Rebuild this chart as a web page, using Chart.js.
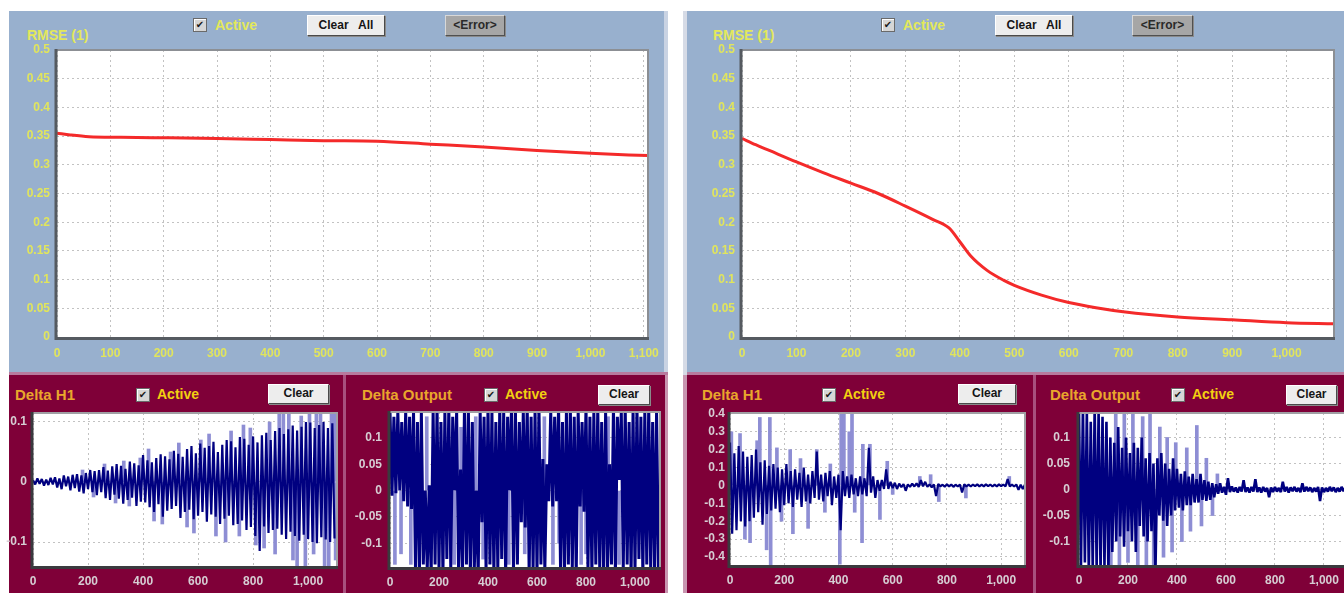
<!DOCTYPE html>
<html>
<head>
<meta charset="utf-8">
<script src="https://cdn.jsdelivr.net/npm/chart.js@4.4.1/dist/chart.umd.min.js"></script>
<style>
  html, body { margin: 0; padding: 0; background: #fff; width: 1344px; height: 593px; overflow: hidden; position: relative;
    font-family: "Liberation Sans", Arial, sans-serif; }
  .abs { position: absolute; }
  .blue { background: #98b0ce; }
  .maroon { background: #7f0038; }
  .txt { position: absolute; font-weight: bold; white-space: nowrap; line-height: 16px; }
  .ylw { color: #e3e85a; font-size: 14px; }
  .org { color: #e9a62c; font-size: 15px; }
  .act { color: #f2d010; font-size: 14px; }
  .chk { position: absolute; width: 12px; height: 12px; background: #d6d6d6; border: 1px solid #6a6a6a;
    box-shadow: inset 1px 1px 0 #fff; font: bold 10px "DejaVu Sans", sans-serif; color: #1a1a1a;
    text-align: center; line-height: 12px; }
  .btn { position: absolute; box-sizing: border-box; background: #ededed; border: 1px solid; border-color: #fff #4a4a4a #4a4a4a #fff;
    box-shadow: 1px 1px 0 #8a8a8a; font: bold 12px "Liberation Sans", Arial, sans-serif; color: #151515; text-align: center; }
  .btn.err { background: #a6a6a6; border-color: #d8d8d8 #505050 #505050 #d8d8d8; color: #2a2a2a; }
  canvas { position: absolute; }
</style>
</head>
<body>
<!-- left window -->
<div class="abs blue" style="left:9px;top:11px;width:655px;height:361px"></div>
<div class="abs" style="left:664px;top:11px;width:4px;height:361px;background:#c9d3e3"></div>
<div class="abs" style="left:9px;top:372px;width:659px;height:3px;background:#b87a9e"></div>
<div class="abs maroon" style="left:9px;top:375px;width:656px;height:218px"></div>
<div class="abs" style="left:665px;top:375px;width:3px;height:218px;background:#c895b0"></div>
<div class="abs" style="left:343px;top:375px;width:3px;height:218px;background:#a8507e"></div>

<!-- right window -->
<div class="abs" style="left:683px;top:11px;width:4px;height:582px;background:#d6dbe6"></div>
<div class="abs blue" style="left:687px;top:11px;width:657px;height:361px"></div>
<div class="abs" style="left:687px;top:372px;width:657px;height:3px;background:#b87a9e"></div>
<div class="abs maroon" style="left:687px;top:375px;width:657px;height:218px"></div>
<div class="abs" style="left:683px;top:375px;width:4px;height:218px;background:#c895b0"></div>
<div class="abs" style="left:1033px;top:375px;width:3px;height:218px;background:#a8507e"></div>

<!-- top toolbars -->
<div class="txt ylw" style="left:27px;top:27px">RMSE (1)</div>
<div class="chk" style="left:193px;top:18px">✔</div>
<div class="txt ylw" style="left:215px;top:17px">Active</div>
<div class="btn" style="left:307px;top:15px;width:78px;height:21px;line-height:18px">Clear&nbsp;&nbsp; All</div>
<div class="btn err" style="left:445px;top:15px;width:60px;height:21px;line-height:18px">&lt;Error&gt;</div>

<div class="txt ylw" style="left:713px;top:27px">RMSE (1)</div>
<div class="chk" style="left:881px;top:18px">✔</div>
<div class="txt ylw" style="left:903px;top:17px">Active</div>
<div class="btn" style="left:995px;top:15px;width:78px;height:21px;line-height:18px">Clear&nbsp;&nbsp; All</div>
<div class="btn err" style="left:1132px;top:15px;width:61px;height:21px;line-height:18px">&lt;Error&gt;</div>

<!-- bottom toolbars -->
<div class="txt org" style="left:15px;top:387px">Delta H1</div>
<div class="chk" style="left:136px;top:388px">✔</div>
<div class="txt act" style="left:157px;top:386px">Active</div>
<div class="btn" style="left:268px;top:384px;width:61px;height:20px;line-height:17px">Clear</div>

<div class="txt org" style="left:362px;top:387px">Delta Output</div>
<div class="chk" style="left:484px;top:388px">✔</div>
<div class="txt act" style="left:505px;top:386px">Active</div>
<div class="btn" style="left:598px;top:385px;width:52px;height:20px;line-height:17px">Clear</div>

<div class="txt org" style="left:702px;top:387px">Delta H1</div>
<div class="chk" style="left:822px;top:388px">✔</div>
<div class="txt act" style="left:843px;top:386px">Active</div>
<div class="btn" style="left:958px;top:384px;width:58px;height:20px;line-height:17px">Clear</div>

<div class="txt org" style="left:1050px;top:387px">Delta Output</div>
<div class="chk" style="left:1171px;top:388px">✔</div>
<div class="txt act" style="left:1192px;top:386px">Active</div>
<div class="btn" style="left:1286px;top:385px;width:51px;height:20px;line-height:17px">Clear</div>

<canvas id="rmseA"></canvas>
<canvas id="rmseB"></canvas>
<canvas id="h1A"></canvas>
<canvas id="outA"></canvas>
<canvas id="h1B"></canvas>
<canvas id="outB"></canvas>

<script>
// ---------- RMSE curves (iteration, error) ----------
const RMSE_ITER_A = [0, 25, 60, 120, 210, 300, 400, 500, 600, 700, 800, 900, 1000, 1108];
const RMSE_A = [0.355, 0.352, 0.349, 0.348, 0.347, 0.346, 0.344, 0.342, 0.341, 0.336, 0.331, 0.325, 0.320, 0.316];

const RMSE_ITER_B = [0, 25, 50, 100, 150, 200, 250, 300, 350, 380, 400, 420, 450, 480, 500, 550, 600, 650, 700, 800, 900, 1000, 1087];
const RMSE_B = [0.346, 0.335, 0.325, 0.305, 0.286, 0.268, 0.25, 0.228, 0.205, 0.19, 0.166, 0.141, 0.116, 0.099, 0.09, 0.073, 0.06, 0.051, 0.044, 0.035, 0.030, 0.025, 0.023];

// ---------- weight deltas, one sample every 8 iterations ----------
const SAMPLE_STEP = 8;

const DELTA_H1_A = [
  0.003,-0.004,0.006,-0.003,0.005,-0.006,0.004,-0.005,0.007,-0.004,
  0.008,-0.009,0.006,-0.012,0.011,-0.007,0.009,-0.014,0.012,-0.01,
  0.013,-0.016,0.011,-0.019,0.015,-0.012,0.02,-0.017,0.018,-0.022,
  0.02,-0.017,0.025,-0.027,0.019,-0.03,0.026,-0.021,0.03,-0.028,
  0.027,-0.036,0.022,-0.03,0.034,-0.026,0.031,-0.04,0.028,-0.033,
  0.045,-0.034,0.036,-0.042,0.033,-0.05,0.04,-0.037,0.046,-0.058,
  0.043,-0.048,0.038,-0.045,0.052,-0.04,0.047,-0.06,0.042,-0.05,
  0.055,-0.046,0.06,-0.062,0.048,-0.056,0.064,-0.05,0.057,-0.066,
  0.06,-0.054,0.067,-0.058,0.05,-0.07,0.062,-0.061,0.07,-0.056,
  0.068,-0.072,0.058,-0.07,0.075,-0.064,0.072,-0.08,0.062,-0.075,
  0.076,-0.09,0.066,-0.115,0.078,-0.074,0.082,-0.085,0.07,-0.08,
  0.085,-0.078,0.09,-0.088,0.08,-0.095,0.088,-0.083,0.094,-0.09,
  0.086,-0.098,0.092,-0.088,0.1,-0.095,0.099,-0.1,0.09,-0.102,
  0.095,-0.092,0.1,-0.096,0.09,-0.1,0.098,-0.094
];
const PEAKS_H1_A = [
  [180,0.02],[220,-0.025],[260,0.03],[300,-0.035],[330,0.035],[350,-0.04],[390,0.04],[420,0.055],
  [440,-0.065],[470,-0.07],[500,0.05],[530,0.065],[560,-0.075],[585,-0.085],[610,0.07],[640,0.08],
  [665,-0.09],[700,-0.1],[720,0.085],[750,-0.09],[765,0.095],[790,0.09],[810,-0.105],[840,-0.11],
  [860,0.1],[880,-0.12],[895,0.12],[910,0.115],[930,0.12],[945,-0.13],[960,-0.15],[975,0.11],
  [990,-0.15],[1005,0.12],[1020,-0.12],[1030,0.12],[1045,0.12],[1060,-0.15],[1075,-0.15],[1085,0.12],
  [1095,0.12],[1100,-0.13]
];

const DELTA_OUT_A = [
  0.15,-0.01,0.14,-0.005,0.15,0.0,0.13,-0.02,0.15,-0.03,
  0.14,-0.035,0.15,-0.15,0.13,-0.16,0.15,-0.14,0.0,-0.15,
  0.01,-0.16,0.15,-0.14,0.16,-0.15,0.13,-0.16,0.15,-0.13,
  0.16,-0.15,0.14,0.0,0.15,-0.16,0.04,-0.15,0.16,-0.14,
  0.15,-0.16,0.13,-0.15,0.0,-0.16,0.15,-0.06,0.14,-0.15,
  0.16,-0.14,0.15,-0.16,0.13,-0.15,0.16,-0.13,0.15,-0.16,
  0.14,0.0,0.16,-0.15,0.15,-0.14,0.13,-0.06,0.15,-0.07,
  0.16,-0.16,0.14,-0.15,0.15,-0.16,0.16,-0.14,0.06,-0.15,
  0.05,-0.02,0.15,-0.03,0.14,-0.02,0.16,-0.15,0.13,-0.16,
  0.15,-0.14,0.16,-0.15,0.14,-0.16,0.15,-0.03,0.13,-0.04,
  0.16,-0.15,0.14,-0.16,0.15,-0.14,0.16,-0.15,0.13,-0.16,
  0.15,-0.15,0.05,-0.14,0.16,-0.16,0.14,0.02,0.15,-0.15,
  0.16,-0.14,0.13,-0.16,0.15,-0.15,0.16,-0.13,0.14,-0.16,
  0.15,-0.14,0.16,-0.15,0.13,-0.16,0.15,-0.15
];
const PEAKS_OUT_A = [
  [20,-0.14],[45,-0.12],[85,-0.14],[150,0.14],[262,-0.14],[290,0.12],[350,0.14],[380,-0.13],
  [485,-0.14],[550,-0.12],[630,0.14],[665,-0.14],[690,-0.1],[780,-0.14],[800,-0.12],[890,0.14],[935,-0.14]
];

const DELTA_H1_B = [
  0.24,-0.27,0.18,-0.25,0.22,-0.2,0.19,-0.23,0.16,-0.2,
  0.17,-0.18,0.2,-0.15,0.13,-0.22,0.14,-0.16,0.11,-0.14,
  0.12,-0.13,0.1,-0.15,0.09,-0.11,0.12,-0.1,0.08,-0.12,
  0.09,-0.08,0.07,-0.12,0.1,-0.09,0.06,-0.1,0.08,-0.07,
  0.19,-0.08,0.06,-0.09,0.07,-0.06,0.08,-0.11,0.05,-0.07,
  0.06,-0.25,0.08,-0.06,0.05,-0.07,0.06,-0.05,0.04,-0.06,
  0.05,-0.05,0.04,-0.06,0.21,-0.04,0.05,-0.07,0.03,-0.03,
  0.03,-0.02,0.09,-0.02,0.02,-0.015,0.015,-0.02,0.01,-0.01,
  0.008,-0.03,0.006,-0.008,0.01,-0.006,0.012,-0.008,0.03,-0.005,
  0.02,-0.008,0.006,-0.01,0.005,-0.06,0.008,-0.005,0.004,-0.007,
  0.006,-0.005,0.005,-0.008,0.004,-0.006,0.005,-0.04,0.006,-0.005,
  0.004,-0.006,0.005,-0.004,0.006,-0.005,0.004,-0.005,0.006,-0.004,
  0.005,-0.006,0.004,-0.005,0.006,-0.004,0.005,-0.006,0.035,-0.005,
  0.004,-0.006,0.005,-0.025,0.004,-0.02,0.005
];
const PEAKS_H1_B = [
  [5,0.3],[37,0.29],[55,-0.3],[74,-0.32],[100,0.25],[110,0.38],[135,-0.36],[147,0.38],[150,-0.45],
  [173,0.21],[190,-0.2],[222,0.2],[232,-0.27],[260,0.15],[288,-0.24],[320,0.2],[350,-0.15],[370,0.12],
  [405,-0.44],[410,0.4],[420,0.4],[440,0.3],[450,0.42],[460,-0.15],[487,-0.32],[490,0.23],[516,0.23],
  [553,-0.19],[580,0.135],[600,-0.05],[700,0.05],[740,0.06],[770,-0.09],[870,-0.07],[1030,0.05]
];

const DELTA_OUT_B = [
  0.15,-0.15,0.16,-0.14,0.15,-0.16,0.13,-0.15,0.16,-0.15,
  0.15,-0.16,0.14,-0.15,0.13,-0.16,0.1,-0.12,0.09,-0.1,
  0.12,-0.09,0.08,-0.11,0.1,-0.08,0.07,-0.1,0.09,-0.12,
  0.08,-0.07,0.1,-0.09,0.06,-0.1,0.07,-0.08,0.05,-0.16,
  0.06,-0.05,0.07,-0.06,0.05,-0.07,0.04,-0.05,0.06,-0.04,
  0.04,-0.035,0.03,-0.04,0.035,-0.03,0.025,-0.03,0.03,-0.025,
  0.02,-0.025,0.03,-0.02,0.018,-0.022,0.015,-0.02,0.012,-0.015,
  0.01,-0.008,0.012,-0.006,0.005,-0.01,0.022,-0.005,0.006,-0.004,
  0.004,-0.006,0.005,-0.004,0.018,-0.005,0.004,-0.006,0.005,-0.004,
  0.02,-0.005,0.004,-0.006,0.005,-0.004,0.003,-0.015,0.004,-0.005,
  0.005,-0.004,0.003,-0.005,0.015,-0.004,0.005,-0.006,0.004,-0.003,
  0.005,-0.004,0.003,-0.005,0.012,-0.004,0.005,-0.003,0.004,-0.005,
  0.003,-0.004,0.005,-0.022,0.004,-0.005,0.003,-0.004,0.005,-0.003,
  0.004,-0.005,0.003,-0.004,0.005,-0.003,0.004
];
const PEAKS_OUT_B = [
  [130,-0.15],[150,0.15],[165,-0.15],[185,0.15],[200,-0.14],[220,0.15],[240,-0.15],[260,0.14],
  [275,-0.15],[290,0.15],[305,-0.15],[330,0.12],[345,-0.13],[360,0.1],[380,-0.12],[395,0.09],
  [420,-0.1],[440,0.08],[455,-0.08],[481,0.123],[500,-0.07],[520,0.06],[545,-0.05],[565,0.03]
];

// ---------- axis ticks ----------
const RMSE_Y_TICKS = [0, 0.05, 0.1, 0.15, 0.2, 0.25, 0.3, 0.35, 0.4, 0.45, 0.5];
const RMSE_X_TICKS_A = [0, 100, 200, 300, 400, 500, 600, 700, 800, 900, 1000, 1100];
const RMSE_X_TICKS_B = [0, 100, 200, 300, 400, 500, 600, 700, 800, 900, 1000];
const SMALL_X_TICKS = [0, 200, 400, 600, 800, 1000];
const H1_Y_TICKS_A = [-0.1, 0, 0.1];
const H1_Y_TICKS_B = [-0.4, -0.3, -0.2, -0.1, 0, 0.1, 0.2, 0.3, 0.4];
const OUT_Y_TICKS = [-0.1, -0.05, 0, 0.05, 0.1];

// ---------- drawing ----------
Chart.defaults.font.family = '"Liberation Sans", Arial, sans-serif';
Chart.defaults.animation = false;

const fmt = v => Number(v).toLocaleString('en-US', { maximumFractionDigits: 3 });

// white plot background, sunken dark left/bottom edge, light right/top edge
const plotFrame = {
  id: 'plotFrame',
  beforeDraw(chart) {
    const a = chart.chartArea, ctx = chart.ctx;
    ctx.save();
    ctx.fillStyle = '#ffffff';
    ctx.fillRect(a.left, a.top, a.right - a.left, a.bottom - a.top);
    ctx.restore();
  },
  afterDatasetsDraw(chart, args, o) {
    const a = chart.chartArea, ctx = chart.ctx;
    ctx.save();
    ctx.strokeStyle = o.light;
    ctx.lineWidth = 2;
    ctx.beginPath();
    ctx.moveTo(a.left, a.top); ctx.lineTo(a.right, a.top); ctx.lineTo(a.right, a.bottom);
    ctx.stroke();
    ctx.strokeStyle = o.dark;
    ctx.lineWidth = 3;
    ctx.beginPath();
    ctx.moveTo(a.left - 1, a.top - 1); ctx.lineTo(a.left - 1, a.bottom + 1.5); ctx.lineTo(a.right + 1, a.bottom + 1.5);
    ctx.stroke();
    ctx.restore();
  }
};

function place(id, area, m) {
  const c = document.getElementById(id);
  const w = area.r - area.l + m.l + m.r, h = area.b - area.t + m.t + m.b;
  c.width = w; c.height = h;
  c.style.left = (area.l - m.l) + 'px';
  c.style.top = (area.t - m.t) + 'px';
  c.style.width = w + 'px';
  c.style.height = h + 'px';
  return c;
}

function scaleX(min, max, ticks, color, m, pad, size) {
  return {
    type: 'linear', min, max, offset: false,
    grid: { color: '#c2c2c2', lineWidth: 1, drawTicks: false, offset: false },
    border: { display: false, dash: [2, 3] },
    ticks: { color, font: { size, weight: 'bold' }, padding: pad, autoSkip: false, maxRotation: 0, minRotation: 0, callback: fmt },
    afterBuildTicks: s => { s.ticks = ticks.map(v => ({ value: v })); },
    afterFit: s => { s.height = m.b; s.paddingLeft = 0; s.paddingRight = 0; }
  };
}
function scaleY(min, max, ticks, color, m, pad, size) {
  return {
    type: 'linear', min, max,
    grid: { color: '#c2c2c2', lineWidth: 1, drawTicks: false },
    border: { display: false, dash: [2, 3] },
    ticks: { color, font: { size, weight: 'bold' }, padding: pad, autoSkip: false, callback: fmt },
    afterBuildTicks: s => { s.ticks = ticks.map(v => ({ value: v })); },
    afterFit: s => { s.width = m.l; s.paddingTop = 0; s.paddingBottom = 0; }
  };
}

function baseOptions(m, x, y, frame) {
  return {
    responsive: false, devicePixelRatio: 1, animation: false,
    layout: { padding: { top: m.t, right: m.r, left: 0, bottom: 0 } },
    plugins: { legend: { display: false }, tooltip: { enabled: false }, plotFrame: frame },
    scales: { x, y },
    elements: { point: { radius: 0 } }
  };
}

function rmseChart(id, area, m, iters, values, xMax, xTicks) {
  const c = place(id, area, m);
  const yellow = '#e1e55c';
  new Chart(c, {
    type: 'line',
    data: { datasets: [{
      data: iters.map((x, i) => ({ x, y: values[i] })),
      borderColor: '#f42a2a', borderWidth: 3, cubicInterpolationMode: 'monotone', pointRadius: 0
    }] },
    options: baseOptions(m,
      scaleX(0, xMax, xTicks, yellow, m, 9, 12),
      scaleY(0, 0.5, RMSE_Y_TICKS, yellow, m, 7, 12),
      { dark: '#555a60', light: '#8c8f94' }),
    plugins: [plotFrame]
  });
}

function deltaChart(id, area, m, values, peaks, xMax, yMin, yMax, yTicks, yPad, lw) {
  const c = place(id, area, m);
  const grey = '#d6cdd3';
  new Chart(c, {
    type: 'line',
    data: { datasets: [
      {
        type: 'line', order: 0,
        data: values.map((y, i) => ({ x: i * SAMPLE_STEP, y })),
        borderColor: '#000080', borderWidth: lw, borderJoinStyle: 'bevel', tension: 0, pointRadius: 0
      },
      {
        type: 'bar', order: 1, grouped: false,
        data: peaks.map(([x, v]) => ({ x, y: [0, v] })),
        backgroundColor: '#8e8ed4', barThickness: 3, borderWidth: 0
      }
    ] },
    options: baseOptions(m,
      scaleX(0, xMax, SMALL_X_TICKS, grey, m, 8, 12),
      scaleY(yMin, yMax, yTicks, grey, m, yPad, 12),
      { dark: '#3a3a3e', light: '#a0a0a4' }),
    plugins: [plotFrame]
  });
}

rmseChart('rmseA', { l: 57, t: 50, r: 648, b: 337 }, { l: 43, t: 12, r: 14, b: 24 }, RMSE_ITER_A, RMSE_A, 1108, RMSE_X_TICKS_A);
rmseChart('rmseB', { l: 742, t: 50, r: 1334, b: 337 }, { l: 42, t: 12, r: 10, b: 24 }, RMSE_ITER_B, RMSE_B, 1087, RMSE_X_TICKS_B);

deltaChart('h1A', { l: 33, t: 413, r: 337, b: 566 }, { l: 31, t: 8, r: 6, b: 24 }, DELTA_H1_A, PEAKS_H1_A, 1105, -0.14, 0.115, H1_Y_TICKS_A, 6, 2.2);
deltaChart('outA', { l: 390, t: 412, r: 660, b: 567 }, { l: 46, t: 8, r: 5, b: 24 }, DELTA_OUT_A, PEAKS_OUT_A, 1102, -0.145, 0.149, OUT_Y_TICKS, 8, 3);
deltaChart('h1B', { l: 730, t: 413, r: 1025, b: 565 }, { l: 40, t: 8, r: 6, b: 24 }, DELTA_H1_B, PEAKS_H1_B, 1088, -0.445, 0.405, H1_Y_TICKS_B, 5, 2.2);
deltaChart('outB', { l: 1079, t: 413, r: 1346, b: 565 }, { l: 44, t: 8, r: 8, b: 24 }, DELTA_OUT_B, PEAKS_OUT_B, 1090, -0.145, 0.147, OUT_Y_TICKS, 9, 2.6);
</script>
</body>
</html>
